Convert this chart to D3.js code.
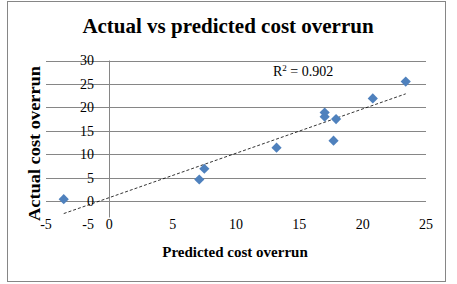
<!DOCTYPE html>
<html>
<head>
<meta charset="utf-8">
<script src="https://cdn.jsdelivr.net/npm/d3@7"></script>
<style>
  body { margin: 0; background: #fff; }
  svg text { font-family: "Liberation Serif", "DejaVu Serif", serif; fill: #000; }
</style>
</head>
<body>
<div class="chart-container"></div>
<script>
// values
var predicted = [-3.6, 7.1, 7.5, 13.2, 17.0, 17.0, 17.9, 17.7, 20.8, 23.4];
var actual    = [0.4, 4.6, 6.9, 11.4, 18.9, 18.0, 17.5, 12.9, 21.9, 25.5];
var xTicks = [-5, 0, 5, 10, 15, 20, 25];
var yTicks = [-5, 0, 5, 10, 15, 20, 25, 30];
var gridTicks = [0, 5, 10, 15, 20, 25, 30];
var rSquared = "0.902";

var width = 457, height = 284;

var svg = d3.select('.chart-container').append('svg')
  .attr('width', width)
  .attr('height', height);

// outer chart border
svg.append('rect')
  .attr('x', 7.5).attr('y', 1.5)
  .attr('width', 438).attr('height', 280)
  .attr('fill', '#fff')
  .attr('stroke', '#868686');

var x = d3.scaleLinear().domain([-5, 25]).range([46, 426]);
var y = d3.scaleLinear().domain([-5, 30]).range([224.5, 60.5]);

// horizontal gridlines
svg.selectAll('.grid')
  .data(gridTicks)
  .enter().append('line')
  .attr('class', 'grid')
  .attr('x1', x(-5)).attr('x2', x(25))
  .attr('y1', function(d) { return Math.round(y(d)) + 0.5; })
  .attr('y2', function(d) { return Math.round(y(d)) + 0.5; })
  .attr('stroke', '#868686');

// vertical axis at x = 0
svg.append('line')
  .attr('x1', Math.round(x(0)) + 0.5).attr('x2', Math.round(x(0)) + 0.5)
  .attr('y1', y(30)).attr('y2', y(-3.5))
  .attr('stroke', '#868686');

// y tick labels
svg.selectAll('.ylab')
  .data(yTicks)
  .enter().append('text')
  .attr('class', 'ylab')
  .attr('x', 94)
  .attr('y', function(d) { return y(d); })
  .attr('dy', '0.35em')
  .attr('text-anchor', 'end')
  .style('font-size', '14px')
  .text(function(d) { return d; });

// x tick labels
svg.selectAll('.xlab')
  .data(xTicks)
  .enter().append('text')
  .attr('class', 'xlab')
  .attr('x', function(d) { return x(d); })
  .attr('y', y(-5))
  .attr('dy', '0.35em')
  .attr('text-anchor', 'middle')
  .style('font-size', '14px')
  .text(function(d) { return d; });

// linear trendline from the data
var mx = d3.mean(predicted), my = d3.mean(actual);
var sxy = d3.sum(predicted, function(d, i) { return (d - mx) * (actual[i] - my); });
var sxx = d3.sum(predicted, function(d) { return (d - mx) * (d - mx); });
var slope = sxy / sxx, intercept = my - slope * mx;
var ext = d3.extent(predicted);

svg.append('line')
  .attr('x1', x(ext[0])).attr('y1', y(slope * ext[0] + intercept))
  .attr('x2', x(ext[1])).attr('y2', y(slope * ext[1] + intercept))
  .attr('stroke', '#000')
  .attr('stroke-width', 0.8)
  .attr('stroke-dasharray', '3,2');

// points
var pts = predicted.map(function(d, i) { return {x: d, y: actual[i]}; });
svg.selectAll('.pt')
  .data(pts)
  .enter().append('path')
  .attr('class', 'pt')
  .attr('d', d3.symbol().type(d3.symbolSquare).size(52))
  .attr('transform', function(d) { return 'translate(' + x(d.x) + ',' + y(d.y) + ') rotate(45)'; })
  .attr('fill', '#4f81bd');

// R squared label
var rl = svg.append('text')
  .attr('x', 273).attr('y', 75.5)
  .style('font-size', '14px');
rl.append('tspan').text('R');
rl.append('tspan').attr('dy', -5).style('font-size', '9px').text('2');
rl.append('tspan').attr('dy', 5).text(' = ' + rSquared);

// titles
svg.append('text')
  .attr('x', 228).attr('y', 33)
  .attr('text-anchor', 'middle')
  .style('font-size', '21px')
  .style('font-weight', 'bold')
  .text('Actual vs predicted cost overrun');

svg.append('text')
  .attr('x', 235).attr('y', 256.5)
  .attr('text-anchor', 'middle')
  .style('font-size', '15px')
  .style('font-weight', 'bold')
  .text('Predicted cost overrun');

svg.append('text')
  .attr('transform', 'translate(40,143.5) rotate(-90)')
  .attr('text-anchor', 'middle')
  .attr('textLength', 155)
  .attr('lengthAdjust', 'spacingAndGlyphs')
  .style('font-size', '16px')
  .style('font-weight', 'bold')
  .text('Actual cost overrun');
</script>
</body>
</html>
